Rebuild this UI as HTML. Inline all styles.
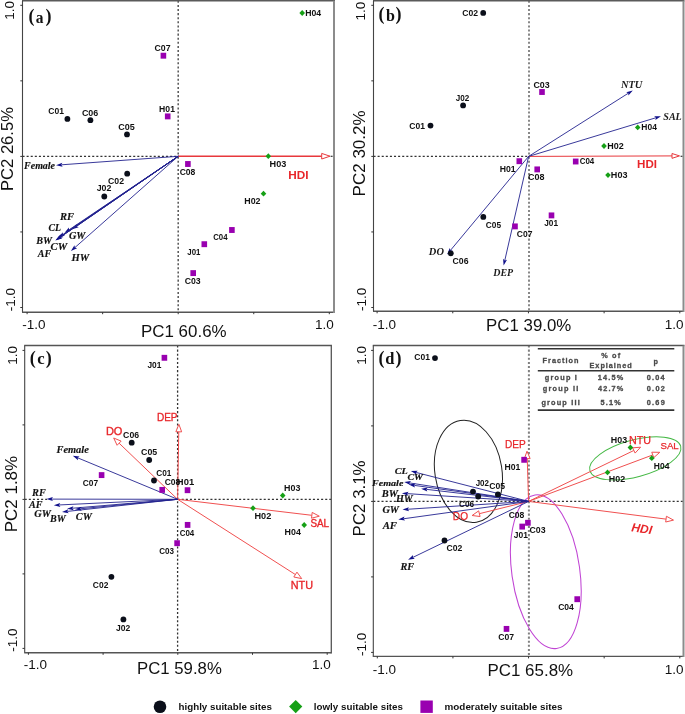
<!DOCTYPE html>
<html><head><meta charset="utf-8"><title>PCA biplots</title>
<style>html,body{margin:0;padding:0;background:#fff;}body{width:685px;height:714px;overflow:hidden;}svg{display:block;will-change:transform;}</style>
</head><body>
<svg width="685" height="714" viewBox="0 0 685 714">
<rect width="685" height="714" fill="#fff"/>
<line x1="22.5" y1="156.3" x2="178.2" y2="156.3" stroke="#333" stroke-width="1.2" stroke-dasharray="2.05,2.05"/>
<line x1="178.2" y1="0.8" x2="178.2" y2="312.2" stroke="#555" stroke-width="1.5" stroke-dasharray="2.05,2.05"/>
<line x1="22.0" y1="0.8" x2="335.0" y2="0.8" stroke="#5a5a5a" stroke-width="1.6"/>
<line x1="22.5" y1="0.8" x2="22.5" y2="312.2" stroke="#444" stroke-width="1.1"/>
<line x1="22.0" y1="312.2" x2="334" y2="312.2" stroke="#555" stroke-width="1.4"/>
<line x1="334" y1="0.8" x2="334" y2="312.9" stroke="#8c8c8c" stroke-width="2.0"/>
<line x1="27.10" y1="312.2" x2="27.10" y2="314.2" stroke="#333" stroke-width="1"/>
<line x1="102.65" y1="312.2" x2="102.65" y2="314.2" stroke="#333" stroke-width="1"/>
<line x1="178.20" y1="312.2" x2="178.20" y2="314.2" stroke="#333" stroke-width="1"/>
<line x1="253.75" y1="312.2" x2="253.75" y2="314.2" stroke="#333" stroke-width="1"/>
<line x1="329.30" y1="312.2" x2="329.30" y2="314.2" stroke="#333" stroke-width="1"/>
<line x1="20.3" y1="5.30" x2="22.5" y2="5.30" stroke="#333" stroke-width="1"/>
<line x1="20.3" y1="80.85" x2="22.5" y2="80.85" stroke="#333" stroke-width="1"/>
<line x1="20.3" y1="156.40" x2="22.5" y2="156.40" stroke="#333" stroke-width="1"/>
<line x1="20.3" y1="231.95" x2="22.5" y2="231.95" stroke="#333" stroke-width="1"/>
<line x1="20.3" y1="307.50" x2="22.5" y2="307.50" stroke="#333" stroke-width="1"/>
<line x1="330.6" y1="156.3" x2="332.6" y2="156.3" stroke="#333" stroke-width="1.2"/>
<line x1="178.20" y1="156.30" x2="321.70" y2="156.21" stroke="#e8383c" stroke-width="1.6"/>
<path d="M330.00 156.20L321.70 159.01L321.70 153.41Z" fill="#fff" stroke="#e8383c" stroke-width="1"/>
<line x1="178.20" y1="156.30" x2="61.49" y2="164.80" stroke="#22228f" stroke-width="0.9"/>
<path d="M56.00 165.20L62.34 162.73L61.29 164.82L62.63 166.72Z" fill="#10108a"/>
<line x1="178.20" y1="156.30" x2="76.73" y2="226.18" stroke="#22228f" stroke-width="0.9"/>
<path d="M72.20 229.30L76.42 223.97L76.57 226.29L78.69 227.26Z" fill="#10108a"/>
<line x1="178.20" y1="156.30" x2="69.16" y2="229.73" stroke="#22228f" stroke-width="0.9"/>
<path d="M64.60 232.80L68.87 227.51L69.00 229.84L71.11 230.83Z" fill="#10108a"/>
<line x1="178.20" y1="156.30" x2="63.05" y2="234.41" stroke="#22228f" stroke-width="0.9"/>
<path d="M58.50 237.50L62.76 232.20L62.89 234.52L65.00 235.51Z" fill="#10108a"/>
<line x1="178.20" y1="156.30" x2="61.54" y2="235.90" stroke="#22228f" stroke-width="0.9"/>
<path d="M57.00 239.00L61.24 233.68L61.38 236.01L63.50 236.99Z" fill="#10108a"/>
<line x1="178.20" y1="156.30" x2="60.34" y2="237.09" stroke="#22228f" stroke-width="0.9"/>
<path d="M55.80 240.20L60.03 234.88L60.17 237.20L62.29 238.17Z" fill="#10108a"/>
<line x1="178.20" y1="156.30" x2="59.84" y2="237.49" stroke="#22228f" stroke-width="0.9"/>
<path d="M55.30 240.60L59.53 235.27L59.67 237.60L61.79 238.57Z" fill="#10108a"/>
<line x1="178.20" y1="156.30" x2="75.02" y2="247.46" stroke="#22228f" stroke-width="0.9"/>
<path d="M70.90 251.10L74.45 245.30L74.87 247.59L77.10 248.30Z" fill="#10108a"/>
<circle cx="67.4" cy="118.9" r="2.9" fill="#0b0f1a"/>
<circle cx="90.4" cy="120.2" r="2.9" fill="#0b0f1a"/>
<circle cx="127" cy="134.4" r="2.9" fill="#0b0f1a"/>
<circle cx="127.2" cy="173.7" r="2.9" fill="#0b0f1a"/>
<circle cx="104.3" cy="196.5" r="2.9" fill="#0b0f1a"/>
<rect x="160.60" y="52.75" width="5.6" height="5.9" fill="#9900b0"/>
<rect x="164.90" y="113.45" width="5.6" height="5.9" fill="#9900b0"/>
<rect x="185.10" y="161.05" width="5.6" height="5.9" fill="#9900b0"/>
<rect x="229.10" y="227.05" width="5.6" height="5.9" fill="#9900b0"/>
<rect x="201.50" y="241.25" width="5.6" height="5.9" fill="#9900b0"/>
<rect x="190.40" y="270.15" width="5.6" height="5.9" fill="#9900b0"/>
<path d="M302.20 10.10L305.00 13.00L302.20 15.90L299.40 13.00Z" fill="#16a016"/>
<path d="M268.30 153.30L271.10 156.20L268.30 159.10L265.50 156.20Z" fill="#16a016"/>
<path d="M263.50 190.80L266.30 193.70L263.50 196.60L260.70 193.70Z" fill="#16a016"/>
<text x="48.35" y="114.22" textLength="15.69" lengthAdjust="spacingAndGlyphs" style='font-family:"Liberation Sans", sans-serif;font-size:8.50px;font-weight:bold;font-style:normal;fill:#111'>C01</text>
<text x="81.93" y="115.92" textLength="16.39" lengthAdjust="spacingAndGlyphs" style='font-family:"Liberation Sans", sans-serif;font-size:8.50px;font-weight:bold;font-style:normal;fill:#111'>C06</text>
<text x="118.23" y="130.12" textLength="16.52" lengthAdjust="spacingAndGlyphs" style='font-family:"Liberation Sans", sans-serif;font-size:8.50px;font-weight:bold;font-style:normal;fill:#111'>C05</text>
<text x="159.12" y="112.42" textLength="15.82" lengthAdjust="spacingAndGlyphs" style='font-family:"Liberation Sans", sans-serif;font-size:8.50px;font-weight:bold;font-style:normal;fill:#111'>H01</text>
<text x="154.54" y="50.72" textLength="16.04" lengthAdjust="spacingAndGlyphs" style='font-family:"Liberation Sans", sans-serif;font-size:8.50px;font-weight:bold;font-style:normal;fill:#111'>C07</text>
<text x="305.22" y="15.92" textLength="15.93" lengthAdjust="spacingAndGlyphs" style='font-family:"Liberation Sans", sans-serif;font-size:8.50px;font-weight:bold;font-style:normal;fill:#111'>H04</text>
<text x="179.65" y="174.62" textLength="15.71" lengthAdjust="spacingAndGlyphs" style='font-family:"Liberation Sans", sans-serif;font-size:8.50px;font-weight:bold;font-style:normal;fill:#111'>C08</text>
<text x="269.59" y="166.80" textLength="16.74" lengthAdjust="spacingAndGlyphs" style='font-family:"Liberation Sans", sans-serif;font-size:8.50px;font-weight:bold;font-style:normal;fill:#111'>H03</text>
<text x="108.04" y="184.02" textLength="16.01" lengthAdjust="spacingAndGlyphs" style='font-family:"Liberation Sans", sans-serif;font-size:8.50px;font-weight:bold;font-style:normal;fill:#111'>C02</text>
<text x="96.67" y="191.42" textLength="14.69" lengthAdjust="spacingAndGlyphs" style='font-family:"Liberation Sans", sans-serif;font-size:8.50px;font-weight:bold;font-style:normal;fill:#111'>J02</text>
<text x="244.31" y="203.82" textLength="16.25" lengthAdjust="spacingAndGlyphs" style='font-family:"Liberation Sans", sans-serif;font-size:8.50px;font-weight:bold;font-style:normal;fill:#111'>H02</text>
<text x="213.18" y="240.42" textLength="14.36" lengthAdjust="spacingAndGlyphs" style='font-family:"Liberation Sans", sans-serif;font-size:8.50px;font-weight:bold;font-style:normal;fill:#111'>C04</text>
<text x="187.28" y="254.72" textLength="13.14" lengthAdjust="spacingAndGlyphs" style='font-family:"Liberation Sans", sans-serif;font-size:8.50px;font-weight:bold;font-style:normal;fill:#111'>J01</text>
<text x="184.74" y="283.50" textLength="15.97" lengthAdjust="spacingAndGlyphs" style='font-family:"Liberation Sans", sans-serif;font-size:8.50px;font-weight:bold;font-style:normal;fill:#111'>C03</text>
<text x="24.11" y="168.90" textLength="30.91" lengthAdjust="spacingAndGlyphs" style='font-family:"Liberation Serif", serif;font-size:9.52px;font-weight:bold;font-style:italic;fill:#111;stroke:#111;stroke-width:0.15px'>Female</text>
<text x="60.12" y="219.90" textLength="13.96" lengthAdjust="spacingAndGlyphs" style='font-family:"Liberation Serif", serif;font-size:10.08px;font-weight:bold;font-style:italic;fill:#111;stroke:#111;stroke-width:0.15px'>RF</text>
<text x="48.57" y="231.10" textLength="12.47" lengthAdjust="spacingAndGlyphs" style='font-family:"Liberation Serif", serif;font-size:9.97px;font-weight:bold;font-style:italic;fill:#111;stroke:#111;stroke-width:0.15px'>CL</text>
<text x="68.95" y="239.15" textLength="16.45" lengthAdjust="spacingAndGlyphs" style='font-family:"Liberation Serif", serif;font-size:10.04px;font-weight:bold;font-style:italic;fill:#111;stroke:#111;stroke-width:0.15px'>GW</text>
<text x="36.19" y="243.75" textLength="15.71" lengthAdjust="spacingAndGlyphs" style='font-family:"Liberation Serif", serif;font-size:9.85px;font-weight:bold;font-style:italic;fill:#111;stroke:#111;stroke-width:0.15px'>BW</text>
<text x="50.53" y="250.45" textLength="16.64" lengthAdjust="spacingAndGlyphs" style='font-family:"Liberation Serif", serif;font-size:9.89px;font-weight:bold;font-style:italic;fill:#111;stroke:#111;stroke-width:0.15px'>CW</text>
<text x="37.72" y="256.70" textLength="13.35" lengthAdjust="spacingAndGlyphs" style='font-family:"Liberation Serif", serif;font-size:10.91px;font-weight:bold;font-style:italic;fill:#111;stroke:#111;stroke-width:0.15px'>AF</text>
<text x="71.48" y="261.14" textLength="17.70" lengthAdjust="spacingAndGlyphs" style='font-family:"Liberation Serif", serif;font-size:10.75px;font-weight:bold;font-style:italic;fill:#111;stroke:#111;stroke-width:0.15px'>HW</text>
<text x="288.21" y="178.70" textLength="20.28" lengthAdjust="spacingAndGlyphs" style='font-family:"Liberation Sans", sans-serif;font-size:11.19px;font-weight:bold;font-style:normal;fill:#e8262a'>HDI</text>
<text x="28.41" y="22.29" style='font-family:"Liberation Serif", serif;font-weight:bold;fill:#111;font-size:18.0px'>(</text>
<text x="45.60" y="22.29" style='font-family:"Liberation Serif", serif;font-weight:bold;fill:#111;font-size:18.0px'>)</text>
<text x="35.70" y="22.83" textLength="7.73" lengthAdjust="spacingAndGlyphs" style='font-family:"Liberation Serif", serif;font-weight:bold;fill:#111;font-size:17.2px'>a</text>
<text x="0" y="0" transform="translate(14.37,19.83) rotate(-90)" style='font-family:"Liberation Sans", sans-serif;font-size:13.50px;font-weight:normal;font-style:normal;fill:#111'>1.0</text>
<text x="0" y="0" transform="translate(15.07,311.17) rotate(-90)" style='font-family:"Liberation Sans", sans-serif;font-size:13.50px;font-weight:normal;font-style:normal;fill:#111'>-1.0</text>
<text x="22.23" y="328.87" style='font-family:"Liberation Sans", sans-serif;font-size:13.50px;font-weight:normal;font-style:normal;fill:#111'>-1.0</text>
<text x="315.07" y="328.67" style='font-family:"Liberation Sans", sans-serif;font-size:13.50px;font-weight:normal;font-style:normal;fill:#111'>1.0</text>
<text x="141.01" y="336.93" textLength="85.59" lengthAdjust="spacingAndGlyphs" style='font-family:"Liberation Sans", sans-serif;font-size:17.00px;font-weight:normal;font-style:normal;fill:#111'>PC1 60.6%</text>
<text x="0" y="0" transform="translate(13.43,190.96) rotate(-90)" textLength="83.85" lengthAdjust="spacingAndGlyphs" style='font-family:"Liberation Sans", sans-serif;font-size:17.00px;font-weight:normal;font-style:normal;fill:#111'>PC2 26.5%</text>
<line x1="373.5" y1="156.4" x2="528.6" y2="156.4" stroke="#333" stroke-width="1.2" stroke-dasharray="2.05,2.05"/>
<line x1="529" y1="0.8" x2="529" y2="311.3" stroke="#888" stroke-width="2" stroke-dasharray="2.05,2.05"/>
<line x1="373.0" y1="0.8" x2="684.5" y2="0.8" stroke="#5a5a5a" stroke-width="1.6"/>
<line x1="373.5" y1="0.8" x2="373.5" y2="311.3" stroke="#444" stroke-width="1.1"/>
<line x1="373.0" y1="311.3" x2="683.5" y2="311.3" stroke="#555" stroke-width="1.4"/>
<line x1="683.5" y1="0.8" x2="683.5" y2="312.0" stroke="#8c8c8c" stroke-width="2.0"/>
<line x1="377.10" y1="311.3" x2="377.10" y2="313.3" stroke="#333" stroke-width="1"/>
<line x1="452.77" y1="311.3" x2="452.77" y2="313.3" stroke="#333" stroke-width="1"/>
<line x1="528.45" y1="311.3" x2="528.45" y2="313.3" stroke="#333" stroke-width="1"/>
<line x1="604.12" y1="311.3" x2="604.12" y2="313.3" stroke="#333" stroke-width="1"/>
<line x1="679.80" y1="311.3" x2="679.80" y2="313.3" stroke="#333" stroke-width="1"/>
<line x1="371.3" y1="5.30" x2="373.5" y2="5.30" stroke="#333" stroke-width="1"/>
<line x1="371.3" y1="80.85" x2="373.5" y2="80.85" stroke="#333" stroke-width="1"/>
<line x1="371.3" y1="156.40" x2="373.5" y2="156.40" stroke="#333" stroke-width="1"/>
<line x1="371.3" y1="231.95" x2="373.5" y2="231.95" stroke="#333" stroke-width="1"/>
<line x1="371.3" y1="307.50" x2="373.5" y2="307.50" stroke="#333" stroke-width="1"/>
<line x1="680.6" y1="156.3" x2="682.4" y2="156.3" stroke="#333" stroke-width="1.2"/>
<line x1="528.60" y1="156.40" x2="672.00" y2="155.92" stroke="#e8383c" stroke-width="1.0"/>
<path d="M679.50 155.90L672.01 158.32L671.99 153.52Z" fill="#fff" stroke="#e8383c" stroke-width="1"/>
<line x1="528.60" y1="156.40" x2="628.15" y2="93.34" stroke="#22228f" stroke-width="0.9"/>
<path d="M632.80 90.40L628.38 95.57L628.32 93.24L626.24 92.19Z" fill="#10108a"/>
<line x1="528.60" y1="156.40" x2="655.74" y2="117.80" stroke="#22228f" stroke-width="0.9"/>
<path d="M661.00 116.20L655.36 120.00L655.93 117.74L654.20 116.17Z" fill="#10108a"/>
<line x1="528.60" y1="156.40" x2="450.62" y2="250.17" stroke="#22228f" stroke-width="0.9"/>
<path d="M447.10 254.40L449.72 248.12L450.49 250.33L452.79 250.68Z" fill="#10108a"/>
<line x1="528.60" y1="156.40" x2="504.83" y2="260.24" stroke="#22228f" stroke-width="0.9"/>
<path d="M503.60 265.60L503.10 258.82L504.78 260.43L507.00 259.71Z" fill="#10108a"/>
<circle cx="483.2" cy="12.9" r="2.9" fill="#0b0f1a"/>
<circle cx="463.1" cy="105.4" r="2.9" fill="#0b0f1a"/>
<circle cx="430.5" cy="125.6" r="2.9" fill="#0b0f1a"/>
<circle cx="483.3" cy="216.9" r="2.9" fill="#0b0f1a"/>
<circle cx="450.8" cy="253.3" r="2.9" fill="#0b0f1a"/>
<rect x="539.20" y="89.05" width="5.6" height="5.9" fill="#9900b0"/>
<rect x="516.50" y="158.25" width="5.6" height="5.9" fill="#9900b0"/>
<rect x="534.40" y="166.45" width="5.6" height="5.9" fill="#9900b0"/>
<rect x="572.90" y="158.55" width="5.6" height="5.9" fill="#9900b0"/>
<rect x="512.20" y="223.45" width="5.6" height="5.9" fill="#9900b0"/>
<rect x="548.70" y="212.45" width="5.6" height="5.9" fill="#9900b0"/>
<path d="M637.70 124.50L640.50 127.40L637.70 130.30L634.90 127.40Z" fill="#16a016"/>
<path d="M604.00 143.10L606.80 146.00L604.00 148.90L601.20 146.00Z" fill="#16a016"/>
<path d="M608.00 172.20L610.80 175.10L608.00 178.00L605.20 175.10Z" fill="#16a016"/>
<text x="462.35" y="16.12" textLength="15.80" lengthAdjust="spacingAndGlyphs" style='font-family:"Liberation Sans", sans-serif;font-size:8.50px;font-weight:bold;font-style:normal;fill:#111'>C02</text>
<text x="455.68" y="100.72" textLength="13.55" lengthAdjust="spacingAndGlyphs" style='font-family:"Liberation Sans", sans-serif;font-size:8.50px;font-weight:bold;font-style:normal;fill:#111'>J02</text>
<text x="409.35" y="128.72" textLength="15.69" lengthAdjust="spacingAndGlyphs" style='font-family:"Liberation Sans", sans-serif;font-size:8.50px;font-weight:bold;font-style:normal;fill:#111'>C01</text>
<text x="533.44" y="87.70" textLength="16.28" lengthAdjust="spacingAndGlyphs" style='font-family:"Liberation Sans", sans-serif;font-size:8.50px;font-weight:bold;font-style:normal;fill:#111'>C03</text>
<text x="641.33" y="130.12" textLength="15.51" lengthAdjust="spacingAndGlyphs" style='font-family:"Liberation Sans", sans-serif;font-size:8.50px;font-weight:bold;font-style:normal;fill:#111'>H04</text>
<text x="607.20" y="149.32" textLength="16.46" lengthAdjust="spacingAndGlyphs" style='font-family:"Liberation Sans", sans-serif;font-size:8.50px;font-weight:bold;font-style:normal;fill:#111'>H02</text>
<text x="610.89" y="178.20" textLength="16.63" lengthAdjust="spacingAndGlyphs" style='font-family:"Liberation Sans", sans-serif;font-size:8.50px;font-weight:bold;font-style:normal;fill:#111'>H03</text>
<text x="499.72" y="171.62" textLength="15.92" lengthAdjust="spacingAndGlyphs" style='font-family:"Liberation Sans", sans-serif;font-size:8.50px;font-weight:bold;font-style:normal;fill:#111'>H01</text>
<text x="528.13" y="179.72" textLength="16.44" lengthAdjust="spacingAndGlyphs" style='font-family:"Liberation Sans", sans-serif;font-size:8.50px;font-weight:bold;font-style:normal;fill:#111'>C08</text>
<text x="579.67" y="164.12" textLength="14.57" lengthAdjust="spacingAndGlyphs" style='font-family:"Liberation Sans", sans-serif;font-size:8.50px;font-weight:bold;font-style:normal;fill:#111'>C04</text>
<text x="485.86" y="227.62" textLength="15.27" lengthAdjust="spacingAndGlyphs" style='font-family:"Liberation Sans", sans-serif;font-size:8.50px;font-weight:bold;font-style:normal;fill:#111'>C05</text>
<text x="516.85" y="237.22" textLength="15.62" lengthAdjust="spacingAndGlyphs" style='font-family:"Liberation Sans", sans-serif;font-size:8.50px;font-weight:bold;font-style:normal;fill:#111'>C07</text>
<text x="544.17" y="225.92" textLength="13.86" lengthAdjust="spacingAndGlyphs" style='font-family:"Liberation Sans", sans-serif;font-size:8.50px;font-weight:bold;font-style:normal;fill:#111'>J01</text>
<text x="452.54" y="263.52" textLength="15.97" lengthAdjust="spacingAndGlyphs" style='font-family:"Liberation Sans", sans-serif;font-size:8.50px;font-weight:bold;font-style:normal;fill:#111'>C06</text>
<text x="620.90" y="87.90" textLength="21.45" lengthAdjust="spacingAndGlyphs" style='font-family:"Liberation Serif", serif;font-size:11.29px;font-weight:bold;font-style:italic;fill:#1a1a1a'>NTU</text>
<text x="663.32" y="119.80" textLength="18.43" lengthAdjust="spacingAndGlyphs" style='font-family:"Liberation Serif", serif;font-size:10.57px;font-weight:bold;font-style:italic;fill:#1a1a1a'>SAL</text>
<text x="428.88" y="255.01" textLength="15.02" lengthAdjust="spacingAndGlyphs" style='font-family:"Liberation Serif", serif;font-size:9.53px;font-weight:bold;font-style:italic;fill:#1a1a1a'>DO</text>
<text x="493.27" y="275.78" textLength="19.86" lengthAdjust="spacingAndGlyphs" style='font-family:"Liberation Serif", serif;font-size:10.66px;font-weight:bold;font-style:italic;fill:#1a1a1a'>DEP</text>
<text x="637.13" y="168.10" textLength="19.95" lengthAdjust="spacingAndGlyphs" style='font-family:"Liberation Sans", sans-serif;font-size:11.05px;font-weight:bold;font-style:normal;fill:#e8262a'>HDI</text>
<text x="378.41" y="19.69" style='font-family:"Liberation Serif", serif;font-weight:bold;fill:#111;font-size:18.0px'>(</text>
<text x="395.60" y="19.69" style='font-family:"Liberation Serif", serif;font-weight:bold;fill:#111;font-size:18.0px'>)</text>
<text x="386.00" y="20.53" textLength="8.96" lengthAdjust="spacingAndGlyphs" style='font-family:"Liberation Serif", serif;font-weight:bold;fill:#111;font-size:17.2px'>b</text>
<text x="0" y="0" transform="translate(364.87,20.43) rotate(-90)" style='font-family:"Liberation Sans", sans-serif;font-size:13.50px;font-weight:normal;font-style:normal;fill:#111'>1.0</text>
<text x="0" y="0" transform="translate(365.87,310.97) rotate(-90)" style='font-family:"Liberation Sans", sans-serif;font-size:13.50px;font-weight:normal;font-style:normal;fill:#111'>-1.0</text>
<text x="372.73" y="328.87" style='font-family:"Liberation Sans", sans-serif;font-size:13.50px;font-weight:normal;font-style:normal;fill:#111'>-1.0</text>
<text x="664.87" y="328.87" style='font-family:"Liberation Sans", sans-serif;font-size:13.50px;font-weight:normal;font-style:normal;fill:#111'>1.0</text>
<text x="486.12" y="330.53" textLength="85.18" lengthAdjust="spacingAndGlyphs" style='font-family:"Liberation Sans", sans-serif;font-size:17.00px;font-weight:normal;font-style:normal;fill:#111'>PC1 39.0%</text>
<text x="0" y="0" transform="translate(364.73,196.39) rotate(-90)" textLength="86.00" lengthAdjust="spacingAndGlyphs" style='font-family:"Liberation Sans", sans-serif;font-size:17.00px;font-weight:normal;font-style:normal;fill:#111'>PC2 30.2%</text>
<line x1="24.7" y1="499.3" x2="47" y2="499.3" stroke="#333" stroke-width="1.2" stroke-dasharray="2.05,2.05"/>
<line x1="177.6" y1="499.3" x2="331.3" y2="499.3" stroke="#333" stroke-width="1.2" stroke-dasharray="2.05,2.05"/>
<line x1="177.6" y1="345.5" x2="177.6" y2="652.8" stroke="#333" stroke-width="1.3" stroke-dasharray="2.05,2.05"/>
<line x1="24.2" y1="345.5" x2="331.95" y2="345.5" stroke="#555" stroke-width="1.4"/>
<line x1="24.7" y1="345.5" x2="24.7" y2="652.8" stroke="#444" stroke-width="1.1"/>
<line x1="24.2" y1="652.8" x2="331.3" y2="652.8" stroke="#555" stroke-width="1.4"/>
<line x1="331.3" y1="345.5" x2="331.3" y2="653.5" stroke="#555" stroke-width="1.3"/>
<line x1="28.40" y1="652.8" x2="28.40" y2="654.8" stroke="#333" stroke-width="1"/>
<line x1="103.10" y1="652.8" x2="103.10" y2="654.8" stroke="#333" stroke-width="1"/>
<line x1="177.80" y1="652.8" x2="177.80" y2="654.8" stroke="#333" stroke-width="1"/>
<line x1="252.50" y1="652.8" x2="252.50" y2="654.8" stroke="#333" stroke-width="1"/>
<line x1="327.20" y1="652.8" x2="327.20" y2="654.8" stroke="#333" stroke-width="1"/>
<line x1="22.5" y1="350.40" x2="24.7" y2="350.40" stroke="#333" stroke-width="1"/>
<line x1="22.5" y1="424.90" x2="24.7" y2="424.90" stroke="#333" stroke-width="1"/>
<line x1="22.5" y1="499.40" x2="24.7" y2="499.40" stroke="#333" stroke-width="1"/>
<line x1="22.5" y1="573.90" x2="24.7" y2="573.90" stroke="#333" stroke-width="1"/>
<line x1="22.5" y1="648.40" x2="24.7" y2="648.40" stroke="#333" stroke-width="1"/>
<line x1="177.60" y1="499.30" x2="178.77" y2="431.80" stroke="#f05050" stroke-width="1.0"/>
<path d="M178.90 424.30L181.67 431.85L175.87 431.75Z" fill="#fff" stroke="#f05050" stroke-width="1"/>
<line x1="177.60" y1="499.30" x2="119.11" y2="443.19" stroke="#f05050" stroke-width="1.0"/>
<path d="M113.70 438.00L121.12 441.10L117.10 445.28Z" fill="#fff" stroke="#f05050" stroke-width="1"/>
<line x1="177.60" y1="499.30" x2="311.85" y2="515.31" stroke="#f05050" stroke-width="1.0"/>
<path d="M319.30 516.20L311.51 518.19L312.20 512.43Z" fill="#fff" stroke="#f05050" stroke-width="1"/>
<line x1="177.60" y1="499.30" x2="295.38" y2="574.56" stroke="#f05050" stroke-width="1.0"/>
<path d="M301.70 578.60L293.82 577.01L296.94 572.12Z" fill="#fff" stroke="#f05050" stroke-width="1"/>
<line x1="177.60" y1="499.30" x2="77.88" y2="457.91" stroke="#22228f" stroke-width="0.9"/>
<path d="M72.80 455.80L79.57 456.44L77.70 457.83L78.04 460.14Z" fill="#10108a"/>
<line x1="177.60" y1="499.30" x2="51.90" y2="499.11" stroke="#22228f" stroke-width="0.9"/>
<path d="M46.40 499.10L52.90 497.11L51.70 499.11L52.90 501.11Z" fill="#10108a"/>
<line x1="177.60" y1="499.30" x2="59.29" y2="504.94" stroke="#22228f" stroke-width="0.9"/>
<path d="M53.80 505.20L60.20 502.89L59.09 504.95L60.39 506.89Z" fill="#10108a"/>
<line x1="177.60" y1="499.30" x2="67.47" y2="511.40" stroke="#22228f" stroke-width="0.9"/>
<path d="M62.00 512.00L68.24 509.30L67.27 511.42L68.68 513.28Z" fill="#10108a"/>
<line x1="177.60" y1="499.30" x2="72.58" y2="508.23" stroke="#22228f" stroke-width="0.9"/>
<path d="M67.10 508.70L73.41 506.16L72.38 508.25L73.75 510.14Z" fill="#10108a"/>
<line x1="177.60" y1="499.30" x2="80.47" y2="508.77" stroke="#22228f" stroke-width="0.9"/>
<path d="M75.00 509.30L81.28 506.68L80.28 508.79L81.66 510.66Z" fill="#10108a"/>
<circle cx="131.7" cy="442.7" r="2.9" fill="#0b0f1a"/>
<circle cx="149.2" cy="460" r="2.9" fill="#0b0f1a"/>
<circle cx="154" cy="480.5" r="2.9" fill="#0b0f1a"/>
<circle cx="111.4" cy="576.8" r="2.9" fill="#0b0f1a"/>
<circle cx="123.4" cy="619.4" r="2.9" fill="#0b0f1a"/>
<rect x="161.60" y="354.85" width="5.6" height="5.9" fill="#9900b0"/>
<rect x="98.80" y="472.15" width="5.6" height="5.9" fill="#9900b0"/>
<rect x="159.40" y="486.95" width="5.6" height="5.9" fill="#9900b0"/>
<rect x="184.70" y="487.25" width="5.6" height="5.9" fill="#9900b0"/>
<rect x="184.80" y="521.95" width="5.6" height="5.9" fill="#9900b0"/>
<rect x="174.30" y="540.25" width="5.6" height="5.9" fill="#9900b0"/>
<path d="M282.70 492.60L285.50 495.50L282.70 498.40L279.90 495.50Z" fill="#16a016"/>
<path d="M253.00 505.30L255.80 508.20L253.00 511.10L250.20 508.20Z" fill="#16a016"/>
<path d="M304.20 522.10L307.00 525.00L304.20 527.90L301.40 525.00Z" fill="#16a016"/>
<text x="147.47" y="367.92" textLength="13.96" lengthAdjust="spacingAndGlyphs" style='font-family:"Liberation Sans", sans-serif;font-size:8.50px;font-weight:bold;font-style:normal;fill:#111'>J01</text>
<text x="123.14" y="437.62" textLength="15.97" lengthAdjust="spacingAndGlyphs" style='font-family:"Liberation Sans", sans-serif;font-size:8.50px;font-weight:bold;font-style:normal;fill:#111'>C06</text>
<text x="141.04" y="454.92" textLength="16.21" lengthAdjust="spacingAndGlyphs" style='font-family:"Liberation Sans", sans-serif;font-size:8.50px;font-weight:bold;font-style:normal;fill:#111'>C05</text>
<text x="156.16" y="475.72" textLength="15.17" lengthAdjust="spacingAndGlyphs" style='font-family:"Liberation Sans", sans-serif;font-size:8.50px;font-weight:bold;font-style:normal;fill:#111'>C01</text>
<text x="164.65" y="485.32" textLength="15.61" lengthAdjust="spacingAndGlyphs" style='font-family:"Liberation Sans", sans-serif;font-size:8.50px;font-weight:bold;font-style:normal;fill:#111'>C08</text>
<text x="176.87" y="485.32" textLength="17.29" lengthAdjust="spacingAndGlyphs" style='font-family:"Liberation Sans", sans-serif;font-size:8.50px;font-weight:bold;font-style:normal;fill:#111'>H01</text>
<text x="82.76" y="485.92" textLength="15.41" lengthAdjust="spacingAndGlyphs" style='font-family:"Liberation Sans", sans-serif;font-size:8.50px;font-weight:bold;font-style:normal;fill:#111'>C07</text>
<text x="179.67" y="535.82" textLength="14.57" lengthAdjust="spacingAndGlyphs" style='font-family:"Liberation Sans", sans-serif;font-size:8.50px;font-weight:bold;font-style:normal;fill:#111'>C04</text>
<text x="159.27" y="553.50" textLength="14.82" lengthAdjust="spacingAndGlyphs" style='font-family:"Liberation Sans", sans-serif;font-size:8.50px;font-weight:bold;font-style:normal;fill:#111'>C03</text>
<text x="92.85" y="587.72" textLength="15.48" lengthAdjust="spacingAndGlyphs" style='font-family:"Liberation Sans", sans-serif;font-size:8.50px;font-weight:bold;font-style:normal;fill:#111'>C02</text>
<text x="115.97" y="630.52" textLength="14.27" lengthAdjust="spacingAndGlyphs" style='font-family:"Liberation Sans", sans-serif;font-size:8.50px;font-weight:bold;font-style:normal;fill:#111'>J02</text>
<text x="284.11" y="490.80" textLength="16.32" lengthAdjust="spacingAndGlyphs" style='font-family:"Liberation Sans", sans-serif;font-size:8.50px;font-weight:bold;font-style:normal;fill:#111'>H03</text>
<text x="254.49" y="519.02" textLength="16.78" lengthAdjust="spacingAndGlyphs" style='font-family:"Liberation Sans", sans-serif;font-size:8.50px;font-weight:bold;font-style:normal;fill:#111'>H02</text>
<text x="284.61" y="535.12" textLength="16.24" lengthAdjust="spacingAndGlyphs" style='font-family:"Liberation Sans", sans-serif;font-size:8.50px;font-weight:bold;font-style:normal;fill:#111'>H04</text>
<text x="56.51" y="452.69" textLength="32.32" lengthAdjust="spacingAndGlyphs" style='font-family:"Liberation Serif", serif;font-size:10.37px;font-weight:bold;font-style:italic;fill:#111;stroke:#111;stroke-width:0.15px'>Female</text>
<text x="32.11" y="496.00" textLength="13.65" lengthAdjust="spacingAndGlyphs" style='font-family:"Liberation Serif", serif;font-size:10.54px;font-weight:bold;font-style:italic;fill:#111;stroke:#111;stroke-width:0.15px'>RF</text>
<text x="29.02" y="507.50" textLength="13.45" lengthAdjust="spacingAndGlyphs" style='font-family:"Liberation Serif", serif;font-size:10.00px;font-weight:bold;font-style:italic;fill:#111;stroke:#111;stroke-width:0.15px'>AF</text>
<text x="34.35" y="516.76" textLength="16.55" lengthAdjust="spacingAndGlyphs" style='font-family:"Liberation Serif", serif;font-size:9.45px;font-weight:bold;font-style:italic;fill:#111;stroke:#111;stroke-width:0.15px'>GW</text>
<text x="50.09" y="522.44" textLength="15.62" lengthAdjust="spacingAndGlyphs" style='font-family:"Liberation Serif", serif;font-size:10.90px;font-weight:bold;font-style:italic;fill:#111;stroke:#111;stroke-width:0.15px'>BW</text>
<text x="75.85" y="520.44" textLength="16.05" lengthAdjust="spacingAndGlyphs" style='font-family:"Liberation Serif", serif;font-size:10.63px;font-weight:bold;font-style:italic;fill:#111;stroke:#111;stroke-width:0.15px'>CW</text>
<text x="156.88" y="421.10" textLength="20.65" lengthAdjust="spacingAndGlyphs" style='font-family:"Liberation Sans", sans-serif;font-size:11.77px;font-weight:normal;font-style:normal;fill:#e8262a;stroke:#e8262a;stroke-width:0.35px'>DEP</text>
<text x="105.90" y="435.29" textLength="16.53" lengthAdjust="spacingAndGlyphs" style='font-family:"Liberation Sans", sans-serif;font-size:10.88px;font-weight:normal;font-style:normal;fill:#e8262a;stroke:#e8262a;stroke-width:0.35px'>DO</text>
<text x="310.45" y="526.90" textLength="18.68" lengthAdjust="spacingAndGlyphs" style='font-family:"Liberation Sans", sans-serif;font-size:10.31px;font-weight:normal;font-style:normal;fill:#e8262a;stroke:#e8262a;stroke-width:0.35px'>SAL</text>
<text x="290.81" y="588.89" textLength="22.22" lengthAdjust="spacingAndGlyphs" style='font-family:"Liberation Sans", sans-serif;font-size:11.32px;font-weight:normal;font-style:normal;fill:#e8262a;stroke:#e8262a;stroke-width:0.35px'>NTU</text>
<text x="29.71" y="363.69" style='font-family:"Liberation Serif", serif;font-weight:bold;fill:#111;font-size:18.0px'>(</text>
<text x="45.70" y="363.69" style='font-family:"Liberation Serif", serif;font-weight:bold;fill:#111;font-size:18.0px'>)</text>
<text x="37.13" y="363.94" textLength="7.38" lengthAdjust="spacingAndGlyphs" style='font-family:"Liberation Serif", serif;font-weight:bold;fill:#111;font-size:17.2px'>c</text>
<text x="0" y="0" transform="translate(17.37,364.78) rotate(-90)" style='font-family:"Liberation Sans", sans-serif;font-size:13.50px;font-weight:normal;font-style:normal;fill:#111'>1.0</text>
<text x="0" y="0" transform="translate(16.87,651.82) rotate(-90)" style='font-family:"Liberation Sans", sans-serif;font-size:13.50px;font-weight:normal;font-style:normal;fill:#111'>-1.0</text>
<text x="23.68" y="668.67" style='font-family:"Liberation Sans", sans-serif;font-size:13.50px;font-weight:normal;font-style:normal;fill:#111'>-1.0</text>
<text x="312.12" y="668.97" style='font-family:"Liberation Sans", sans-serif;font-size:13.50px;font-weight:normal;font-style:normal;fill:#111'>1.0</text>
<text x="137.03" y="673.83" textLength="84.77" lengthAdjust="spacingAndGlyphs" style='font-family:"Liberation Sans", sans-serif;font-size:17.00px;font-weight:normal;font-style:normal;fill:#111'>PC1 59.8%</text>
<text x="0" y="0" transform="translate(16.63,532.19) rotate(-90)" textLength="76.29" lengthAdjust="spacingAndGlyphs" style='font-family:"Liberation Sans", sans-serif;font-size:17.00px;font-weight:normal;font-style:normal;fill:#111'>PC2 1.8%</text>
<line x1="373.3" y1="501.4" x2="683.5" y2="501.4" stroke="#333" stroke-width="1.2" stroke-dasharray="2.05,2.05"/>
<line x1="528.9" y1="345.5" x2="528.9" y2="656.4" stroke="#808080" stroke-width="2" stroke-dasharray="2.05,2.05"/>
<line x1="372.8" y1="345.5" x2="684.5" y2="345.5" stroke="#555" stroke-width="1.3"/>
<line x1="373.3" y1="345.5" x2="373.3" y2="656.4" stroke="#444" stroke-width="1.1"/>
<line x1="372.8" y1="656.4" x2="683.5" y2="656.4" stroke="#555" stroke-width="1.4"/>
<line x1="683.5" y1="345.5" x2="683.5" y2="657.1" stroke="#8c8c8c" stroke-width="2.0"/>
<line x1="377.30" y1="656.4" x2="377.30" y2="658.4" stroke="#333" stroke-width="1"/>
<line x1="452.93" y1="656.4" x2="452.93" y2="658.4" stroke="#333" stroke-width="1"/>
<line x1="528.55" y1="656.4" x2="528.55" y2="658.4" stroke="#333" stroke-width="1"/>
<line x1="604.17" y1="656.4" x2="604.17" y2="658.4" stroke="#333" stroke-width="1"/>
<line x1="679.80" y1="656.4" x2="679.80" y2="658.4" stroke="#333" stroke-width="1"/>
<line x1="371.1" y1="350.40" x2="373.3" y2="350.40" stroke="#333" stroke-width="1"/>
<line x1="371.1" y1="425.90" x2="373.3" y2="425.90" stroke="#333" stroke-width="1"/>
<line x1="371.1" y1="501.40" x2="373.3" y2="501.40" stroke="#333" stroke-width="1"/>
<line x1="371.1" y1="576.90" x2="373.3" y2="576.90" stroke="#333" stroke-width="1"/>
<line x1="371.1" y1="652.40" x2="373.3" y2="652.40" stroke="#333" stroke-width="1"/>
<line x1="537.8" y1="348.8" x2="674.3" y2="348.8" stroke="#333" stroke-width="1.6"/>
<line x1="537.8" y1="370.8" x2="674.3" y2="370.8" stroke="#333" stroke-width="1.6"/>
<line x1="537.8" y1="410.1" x2="674.3" y2="410.1" stroke="#333" stroke-width="1.6"/>
<text x="542.61" y="363.30" textLength="35.94" lengthAdjust="spacing" style='font-family:"Liberation Sans", sans-serif;font-size:7.30px;font-weight:bold;font-style:normal;fill:#4a4a4a;stroke:#4a4a4a;stroke-width:0.3px'>Fraction</text>
<text x="601.22" y="357.90" textLength="18.97" lengthAdjust="spacing" style='font-family:"Liberation Sans", sans-serif;font-size:7.30px;font-weight:bold;font-style:normal;fill:#4a4a4a;stroke:#4a4a4a;stroke-width:0.3px'>% of</text>
<text x="589.51" y="368.00" textLength="42.27" lengthAdjust="spacing" style='font-family:"Liberation Sans", sans-serif;font-size:7.30px;font-weight:bold;font-style:normal;fill:#4a4a4a;stroke:#4a4a4a;stroke-width:0.3px'>Explained</text>
<text x="653.52" y="363.80" textLength="4.68" lengthAdjust="spacing" style='font-family:"Liberation Sans", sans-serif;font-size:7.30px;font-weight:bold;font-style:normal;fill:#4a4a4a;stroke:#4a4a4a;stroke-width:0.3px'>p</text>
<text x="544.70" y="379.80" textLength="32.19" lengthAdjust="spacing" style='font-family:"Liberation Sans", sans-serif;font-size:7.30px;font-weight:bold;font-style:normal;fill:#4a4a4a;stroke:#4a4a4a;stroke-width:0.3px'>group I</text>
<text x="597.64" y="379.90" textLength="25.65" lengthAdjust="spacing" style='font-family:"Liberation Sans", sans-serif;font-size:7.30px;font-weight:bold;font-style:normal;fill:#4a4a4a;stroke:#4a4a4a;stroke-width:0.3px'>14.5%</text>
<text x="646.71" y="379.90" textLength="17.83" lengthAdjust="spacing" style='font-family:"Liberation Sans", sans-serif;font-size:7.30px;font-weight:bold;font-style:normal;fill:#4a4a4a;stroke:#4a4a4a;stroke-width:0.3px'>0.04</text>
<text x="542.80" y="391.30" textLength="35.49" lengthAdjust="spacing" style='font-family:"Liberation Sans", sans-serif;font-size:7.30px;font-weight:bold;font-style:normal;fill:#4a4a4a;stroke:#4a4a4a;stroke-width:0.3px'>group II</text>
<text x="597.99" y="391.40" textLength="25.30" lengthAdjust="spacing" style='font-family:"Liberation Sans", sans-serif;font-size:7.30px;font-weight:bold;font-style:normal;fill:#4a4a4a;stroke:#4a4a4a;stroke-width:0.3px'>42.7%</text>
<text x="646.71" y="391.40" textLength="18.08" lengthAdjust="spacing" style='font-family:"Liberation Sans", sans-serif;font-size:7.30px;font-weight:bold;font-style:normal;fill:#4a4a4a;stroke:#4a4a4a;stroke-width:0.3px'>0.02</text>
<text x="541.40" y="405.00" textLength="38.29" lengthAdjust="spacing" style='font-family:"Liberation Sans", sans-serif;font-size:7.30px;font-weight:bold;font-style:normal;fill:#4a4a4a;stroke:#4a4a4a;stroke-width:0.3px'>group III</text>
<text x="600.58" y="405.20" textLength="20.12" lengthAdjust="spacing" style='font-family:"Liberation Sans", sans-serif;font-size:7.30px;font-weight:bold;font-style:normal;fill:#4a4a4a;stroke:#4a4a4a;stroke-width:0.3px'>5.1%</text>
<text x="646.71" y="405.20" textLength="18.06" lengthAdjust="spacing" style='font-family:"Liberation Sans", sans-serif;font-size:7.30px;font-weight:bold;font-style:normal;fill:#4a4a4a;stroke:#4a4a4a;stroke-width:0.3px'>0.69</text>
<ellipse cx="468.4" cy="471.4" rx="33.5" ry="51.5" transform="rotate(-9 468.4 471.4)" fill="none" stroke="#222" stroke-width="1"/>
<ellipse cx="635.3" cy="458.4" rx="47" ry="18.5" transform="rotate(-15 635.3 458.4)" fill="none" stroke="#44b844" stroke-width="0.95"/>
<ellipse cx="545.8" cy="571.7" rx="34" ry="77.5" transform="rotate(-8 545.8 571.7)" fill="none" stroke="#c044d4" stroke-width="1.05"/>
<line x1="528.60" y1="501.40" x2="527.24" y2="458.70" stroke="#f05050" stroke-width="1.0"/>
<path d="M527.00 451.20L530.14 458.60L524.34 458.79Z" fill="#fff" stroke="#f05050" stroke-width="1"/>
<line x1="528.60" y1="501.40" x2="479.38" y2="513.68" stroke="#f05050" stroke-width="1.0"/>
<path d="M472.10 515.50L478.67 510.87L480.08 516.50Z" fill="#fff" stroke="#f05050" stroke-width="1"/>
<line x1="528.60" y1="501.40" x2="633.85" y2="450.47" stroke="#f05050" stroke-width="1.0"/>
<path d="M640.60 447.20L635.11 453.08L632.59 447.86Z" fill="#fff" stroke="#f05050" stroke-width="1"/>
<line x1="528.60" y1="501.40" x2="652.78" y2="454.93" stroke="#f05050" stroke-width="1.0"/>
<path d="M659.80 452.30L653.79 457.64L651.76 452.21Z" fill="#fff" stroke="#f05050" stroke-width="1"/>
<line x1="528.60" y1="501.40" x2="666.06" y2="519.14" stroke="#f05050" stroke-width="1.0"/>
<path d="M673.50 520.10L665.69 522.02L666.43 516.26Z" fill="#fff" stroke="#f05050" stroke-width="1"/>
<line x1="528.60" y1="501.40" x2="416.23" y2="472.47" stroke="#22228f" stroke-width="0.9"/>
<path d="M410.90 471.10L417.69 470.78L416.03 472.42L416.70 474.66Z" fill="#10108a"/>
<line x1="528.60" y1="501.40" x2="409.63" y2="482.94" stroke="#22228f" stroke-width="0.9"/>
<path d="M404.20 482.10L410.93 481.12L409.44 482.91L410.32 485.07Z" fill="#10108a"/>
<line x1="528.60" y1="501.40" x2="414.25" y2="485.36" stroke="#22228f" stroke-width="0.9"/>
<path d="M408.80 484.60L415.51 483.52L414.05 485.34L414.96 487.48Z" fill="#10108a"/>
<line x1="528.60" y1="501.40" x2="426.56" y2="489.35" stroke="#22228f" stroke-width="0.9"/>
<path d="M421.10 488.70L427.79 487.48L426.36 489.32L427.32 491.45Z" fill="#10108a"/>
<line x1="528.60" y1="501.40" x2="407.39" y2="493.65" stroke="#22228f" stroke-width="0.9"/>
<path d="M401.90 493.30L408.51 491.72L407.19 493.64L408.26 495.71Z" fill="#10108a"/>
<line x1="528.60" y1="501.40" x2="407.99" y2="509.24" stroke="#22228f" stroke-width="0.9"/>
<path d="M402.50 509.60L408.86 507.18L407.79 509.26L409.12 511.17Z" fill="#10108a"/>
<line x1="528.60" y1="501.40" x2="403.75" y2="518.74" stroke="#22228f" stroke-width="0.9"/>
<path d="M398.30 519.50L404.46 516.62L403.55 518.77L405.01 520.59Z" fill="#10108a"/>
<line x1="528.60" y1="501.40" x2="413.05" y2="557.30" stroke="#22228f" stroke-width="0.9"/>
<path d="M408.10 559.70L413.08 555.07L412.87 557.39L414.82 558.67Z" fill="#10108a"/>
<circle cx="435" cy="358.1" r="2.9" fill="#0b0f1a"/>
<circle cx="473" cy="491.6" r="2.9" fill="#0b0f1a"/>
<circle cx="478.2" cy="496.5" r="2.9" fill="#0b0f1a"/>
<circle cx="497.9" cy="494.4" r="2.9" fill="#0b0f1a"/>
<circle cx="444.5" cy="540.5" r="2.9" fill="#0b0f1a"/>
<rect x="521.30" y="456.85" width="5.6" height="5.9" fill="#9900b0"/>
<rect x="525.10" y="519.85" width="5.6" height="5.9" fill="#9900b0"/>
<rect x="519.40" y="523.65" width="5.6" height="5.9" fill="#9900b0"/>
<rect x="574.40" y="596.25" width="5.6" height="5.9" fill="#9900b0"/>
<rect x="503.70" y="625.95" width="5.6" height="5.9" fill="#9900b0"/>
<path d="M630.40 444.60L633.20 447.50L630.40 450.40L627.60 447.50Z" fill="#16a016"/>
<path d="M651.80 455.30L654.60 458.20L651.80 461.10L649.00 458.20Z" fill="#16a016"/>
<path d="M607.50 469.50L610.30 472.40L607.50 475.30L604.70 472.40Z" fill="#16a016"/>
<text x="414.35" y="360.42" textLength="15.69" lengthAdjust="spacingAndGlyphs" style='font-family:"Liberation Sans", sans-serif;font-size:8.50px;font-weight:bold;font-style:normal;fill:#111'>C01</text>
<text x="475.68" y="486.32" textLength="13.34" lengthAdjust="spacingAndGlyphs" style='font-family:"Liberation Sans", sans-serif;font-size:8.50px;font-weight:bold;font-style:normal;fill:#111'>J02</text>
<text x="489.24" y="489.32" textLength="15.90" lengthAdjust="spacingAndGlyphs" style='font-family:"Liberation Sans", sans-serif;font-size:8.50px;font-weight:bold;font-style:normal;fill:#111'>C05</text>
<text x="459.06" y="506.92" textLength="15.03" lengthAdjust="spacingAndGlyphs" style='font-family:"Liberation Sans", sans-serif;font-size:8.50px;font-weight:bold;font-style:normal;fill:#111'>C06</text>
<text x="446.55" y="551.32" textLength="15.80" lengthAdjust="spacingAndGlyphs" style='font-family:"Liberation Sans", sans-serif;font-size:8.50px;font-weight:bold;font-style:normal;fill:#111'>C02</text>
<text x="504.52" y="469.92" textLength="15.82" lengthAdjust="spacingAndGlyphs" style='font-family:"Liberation Sans", sans-serif;font-size:8.50px;font-weight:bold;font-style:normal;fill:#111'>H01</text>
<text x="508.65" y="517.92" textLength="15.71" lengthAdjust="spacingAndGlyphs" style='font-family:"Liberation Sans", sans-serif;font-size:8.50px;font-weight:bold;font-style:normal;fill:#111'>C08</text>
<text x="529.54" y="533.40" textLength="16.08" lengthAdjust="spacingAndGlyphs" style='font-family:"Liberation Sans", sans-serif;font-size:8.50px;font-weight:bold;font-style:normal;fill:#111'>C03</text>
<text x="513.77" y="537.82" textLength="14.16" lengthAdjust="spacingAndGlyphs" style='font-family:"Liberation Sans", sans-serif;font-size:8.50px;font-weight:bold;font-style:normal;fill:#111'>J01</text>
<text x="558.15" y="609.82" textLength="15.70" lengthAdjust="spacingAndGlyphs" style='font-family:"Liberation Sans", sans-serif;font-size:8.50px;font-weight:bold;font-style:normal;fill:#111'>C04</text>
<text x="498.25" y="639.82" textLength="15.83" lengthAdjust="spacingAndGlyphs" style='font-family:"Liberation Sans", sans-serif;font-size:8.50px;font-weight:bold;font-style:normal;fill:#111'>C07</text>
<text x="610.81" y="443.00" textLength="16.32" lengthAdjust="spacingAndGlyphs" style='font-family:"Liberation Sans", sans-serif;font-size:8.50px;font-weight:bold;font-style:normal;fill:#111'>H03</text>
<text x="653.83" y="469.12" textLength="15.51" lengthAdjust="spacingAndGlyphs" style='font-family:"Liberation Sans", sans-serif;font-size:8.50px;font-weight:bold;font-style:normal;fill:#111'>H04</text>
<text x="608.80" y="482.42" textLength="16.35" lengthAdjust="spacingAndGlyphs" style='font-family:"Liberation Sans", sans-serif;font-size:8.50px;font-weight:bold;font-style:normal;fill:#111'>H02</text>
<text x="394.65" y="474.31" textLength="13.11" lengthAdjust="spacingAndGlyphs" style='font-family:"Liberation Serif", serif;font-size:9.08px;font-weight:bold;font-style:italic;fill:#111;stroke:#111;stroke-width:0.15px'>CL</text>
<text x="407.46" y="480.37" textLength="15.56" lengthAdjust="spacingAndGlyphs" style='font-family:"Liberation Serif", serif;font-size:8.27px;font-weight:bold;font-style:italic;fill:#111;stroke:#111;stroke-width:0.15px'>CW</text>
<text x="372.01" y="485.52" textLength="31.41" lengthAdjust="spacingAndGlyphs" style='font-family:"Liberation Serif", serif;font-size:7.95px;font-weight:bold;font-style:italic;fill:#111;stroke:#111;stroke-width:0.15px'>Female</text>
<text x="381.80" y="496.75" textLength="16.19" lengthAdjust="spacingAndGlyphs" style='font-family:"Liberation Serif", serif;font-size:10.00px;font-weight:bold;font-style:italic;fill:#111;stroke:#111;stroke-width:0.15px'>BW</text>
<text x="396.07" y="502.06" textLength="16.74" lengthAdjust="spacingAndGlyphs" style='font-family:"Liberation Serif", serif;font-size:9.40px;font-weight:bold;font-style:italic;fill:#111;stroke:#111;stroke-width:0.15px'>HW</text>
<text x="382.45" y="513.26" textLength="16.55" lengthAdjust="spacingAndGlyphs" style='font-family:"Liberation Serif", serif;font-size:9.30px;font-weight:bold;font-style:italic;fill:#111;stroke:#111;stroke-width:0.15px'>GW</text>
<text x="382.66" y="529.40" textLength="14.42" lengthAdjust="spacingAndGlyphs" style='font-family:"Liberation Serif", serif;font-size:10.45px;font-weight:bold;font-style:italic;fill:#111;stroke:#111;stroke-width:0.15px'>AF</text>
<text x="400.51" y="569.80" textLength="13.65" lengthAdjust="spacingAndGlyphs" style='font-family:"Liberation Serif", serif;font-size:10.69px;font-weight:bold;font-style:italic;fill:#111;stroke:#111;stroke-width:0.15px'>RF</text>
<text x="505.07" y="447.60" textLength="20.76" lengthAdjust="spacingAndGlyphs" style='font-family:"Liberation Sans", sans-serif;font-size:11.19px;font-weight:normal;font-style:normal;fill:#e8262a;stroke:#e8262a;stroke-width:0.25px'>DEP</text>
<text x="452.87" y="519.69" textLength="15.11" lengthAdjust="spacingAndGlyphs" style='font-family:"Liberation Sans", sans-serif;font-size:10.88px;font-weight:normal;font-style:normal;fill:#e8262a;stroke:#e8262a;stroke-width:0.25px'>DO</text>
<text x="628.92" y="443.59" textLength="22.11" lengthAdjust="spacingAndGlyphs" style='font-family:"Liberation Sans", sans-serif;font-size:11.04px;font-weight:normal;font-style:normal;fill:#e8262a;stroke:#e8262a;stroke-width:0.25px'>NTU</text>
<text x="660.46" y="448.91" textLength="18.26" lengthAdjust="spacingAndGlyphs" style='font-family:"Liberation Sans", sans-serif;font-size:9.60px;font-weight:normal;font-style:normal;fill:#e8262a;stroke:#e8262a;stroke-width:0.25px'>SAL</text>
<text x="0" y="0" transform="translate(631,531.3) rotate(8)" style='font-family:"Liberation Sans",sans-serif;font-size:12px;font-weight:bold;font-style:italic;fill:#e8262a'>HDI</text>
<text x="378.41" y="363.69" style='font-family:"Liberation Serif", serif;font-weight:bold;fill:#111;font-size:18.0px'>(</text>
<text x="395.60" y="363.69" style='font-family:"Liberation Serif", serif;font-weight:bold;fill:#111;font-size:18.0px'>)</text>
<text x="385.33" y="363.93" textLength="9.15" lengthAdjust="spacingAndGlyphs" style='font-family:"Liberation Serif", serif;font-weight:bold;fill:#111;font-size:17.2px'>d</text>
<text x="0" y="0" transform="translate(365.87,364.78) rotate(-90)" style='font-family:"Liberation Sans", sans-serif;font-size:13.50px;font-weight:normal;font-style:normal;fill:#111'>1.0</text>
<text x="0" y="0" transform="translate(366.17,655.92) rotate(-90)" style='font-family:"Liberation Sans", sans-serif;font-size:13.50px;font-weight:normal;font-style:normal;fill:#111'>-1.0</text>
<text x="372.73" y="673.57" style='font-family:"Liberation Sans", sans-serif;font-size:13.50px;font-weight:normal;font-style:normal;fill:#111'>-1.0</text>
<text x="664.87" y="673.57" style='font-family:"Liberation Sans", sans-serif;font-size:13.50px;font-weight:normal;font-style:normal;fill:#111'>1.0</text>
<text x="487.51" y="675.83" textLength="85.59" lengthAdjust="spacingAndGlyphs" style='font-family:"Liberation Sans", sans-serif;font-size:17.00px;font-weight:normal;font-style:normal;fill:#111'>PC1 65.8%</text>
<text x="0" y="0" transform="translate(365.03,536.38) rotate(-90)" textLength="75.99" lengthAdjust="spacingAndGlyphs" style='font-family:"Liberation Sans", sans-serif;font-size:17.00px;font-weight:normal;font-style:normal;fill:#111'>PC2 3.1%</text>
<circle cx="160" cy="706.7" r="6.3" fill="#0b0f1a"/>
<path d="M295.7 700L302.3 706.6L295.7 713.2L289.1 706.6Z" fill="#16a016"/>
<rect x="420.4" y="700.5" width="12.4" height="12.4" fill="#9900b0"/>
<text x="178.52" y="710.10" textLength="93.38" lengthAdjust="spacingAndGlyphs" style='font-family:"Liberation Sans", sans-serif;font-size:9.93px;font-weight:bold;font-style:normal;fill:#111'>highly suitable sites</text>
<text x="313.82" y="710.13" textLength="89.18" lengthAdjust="spacingAndGlyphs" style='font-family:"Liberation Sans", sans-serif;font-size:9.98px;font-weight:bold;font-style:normal;fill:#111'>lowly suitable sites</text>
<text x="444.55" y="710.13" textLength="117.96" lengthAdjust="spacingAndGlyphs" style='font-family:"Liberation Sans", sans-serif;font-size:9.98px;font-weight:bold;font-style:normal;fill:#111'>moderately suitable sites</text>
</svg>
</body></html>
